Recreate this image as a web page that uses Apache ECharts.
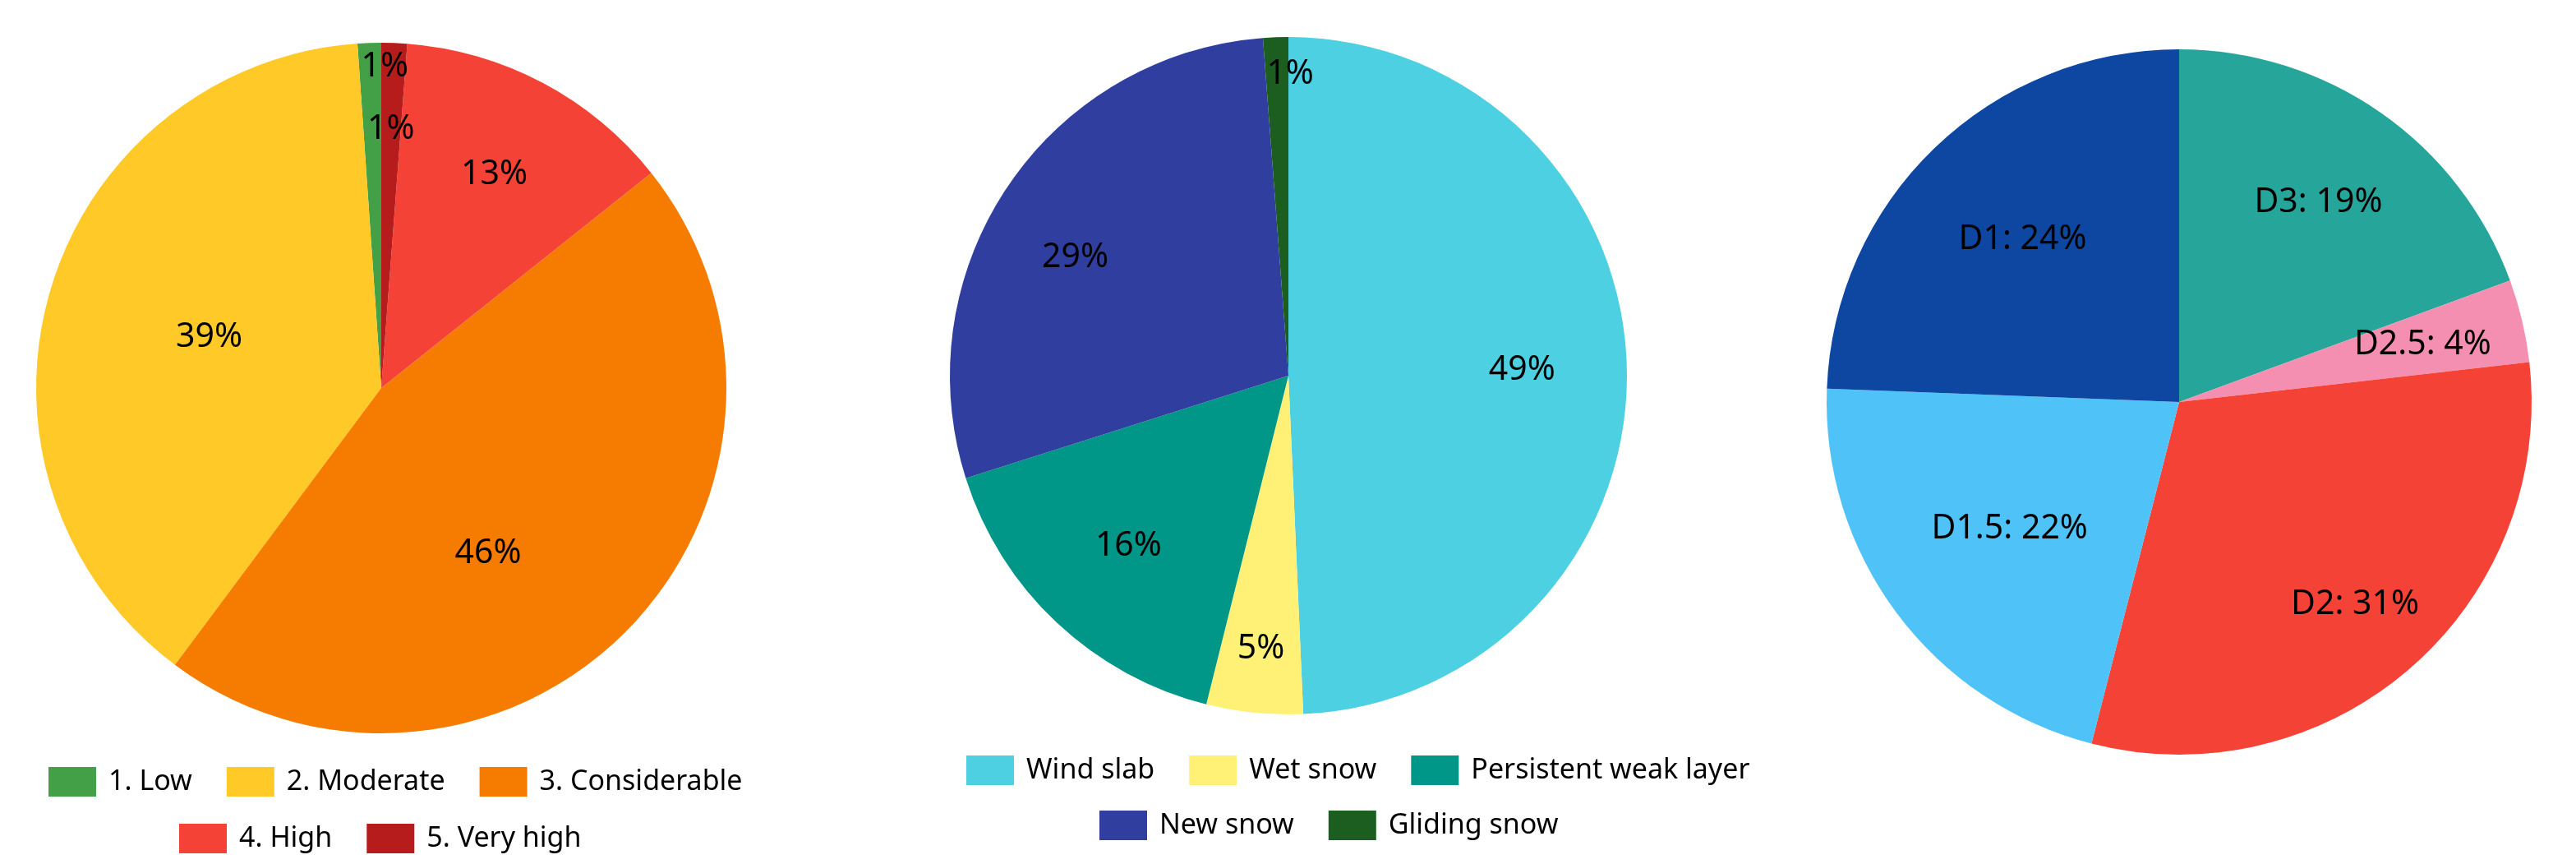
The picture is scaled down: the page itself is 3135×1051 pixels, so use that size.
<!DOCTYPE html>
<html>
<head>
<meta charset="utf-8">
<script src="https://cdn.jsdelivr.net/npm/echarts@6/dist/echarts.min.js"></script>
<style>
  html, body { margin: 0; padding: 0; background: #fff; width: 3135px; height: 1051px; overflow: hidden; }
  .c { position: absolute; top: 0; height: 1051px; }
</style>
</head>
<body>
<div id="c1" class="c" style="left:0;width:928px"></div>
<div id="c2" class="c" style="left:928px;width:1280px"></div>
<div id="c3" class="c" style="left:2208px;width:927px"></div>
<script>
// ---- Data ----
const dangerNames = ['1. Low', '2. Moderate', '3. Considerable', '4. High', '5. Very high'];
const dangerValues = [1.1, 38.7, 45.9, 13.1, 1.2];

const problemNames = ['Wind slab', 'Wet snow', 'Persistent weak layer', 'New snow', 'Gliding snow'];
const problemValues = [49.3, 4.6, 16.2, 28.7, 1.2];

const sizeNames = ['D3', 'D2.5', 'D2', 'D1.5', 'D1'];
const sizeValues = [19.4, 3.8, 30.8, 21.6, 24.4];

// ---- Styles ----
const dangerColors = ['#43A047', '#FFCA28', '#F57C00', '#F44336', '#B71C1C'];
const problemColors = ['#4DD0E1', '#FFF176', '#009688', '#303F9F', '#1B5E20'];
const sizeColors = ['#26A69A', '#F48FB1', '#F44336', '#4FC3F7', '#0D47A1'];

// label placement: fraction of radius, and angular shift (screen-clockwise degrees)
const dangerLabelRadius = [0.93, 0.52, 0.57, 0.70, 0.75];
const dangerLabelShift = [2.6, 0, 13, 0, 0];
const problemLabelRadius = [0.69, 0.81, 0.69, 0.72, 0.89];
const problemLabelShift = [0, 0, 0, -5, 2.5];
const sizeLabelRadius = [0.69, 0.71, 0.76, 0.60, 0.64];
const sizeLabelShift = [0, 0, 0, 0, 0];

const LABEL_FONT = '"Noto Sans", "Open Sans", sans-serif';
const LEGEND_FONT = '"Noto Sans", "Open Sans", sans-serif';

function radialLayout(values, cx, cy, r, fracs, shifts, clockwise) {
  const total = values.reduce((a, b) => a + b, 0);
  return function (params) {
    const i = params.dataIndex;
    let before = 0;
    for (let j = 0; j < i; j++) before += values[j];
    const mid = (before + values[i] / 2) / total;
    const deg = 90 + (clockwise ? -1 : 1) * 360 * mid - shifts[i];
    const theta = deg * Math.PI / 180;
    const rr = r * fracs[i];
    return { x: cx + rr * Math.cos(theta), y: cy - rr * Math.sin(theta) };
  };
}

function makeData(names, values, colors) {
  return names.map((n, i) => ({ name: n, value: values[i], itemStyle: { color: colors[i] } }));
}

function legend(names, left, top) {
  return {
    data: names,
    left: left,
    top: top,
    orient: 'horizontal',
    padding: 0,
    icon: 'rect',
    itemWidth: 58,
    itemHeight: 36,
    itemGap: 42,
    selectedMode: false,
    textStyle: { fontFamily: LEGEND_FONT, fontSize: 34, color: '#000', padding: [0, 0, 0, 10] }
  };
}

function pieSeries(names, values, colors, center, r, fracs, shifts, clockwise, fmt) {
  return {
    type: 'pie',
    center: center,
    radius: r,
    startAngle: 90,
    clockwise: clockwise,
    silent: true,
    avoidLabelOverlap: false,
    data: makeData(names, values, colors),
    itemStyle: { borderWidth: 0 },
    label: {
      show: true,
      position: 'inside',
      formatter: fmt,
      fontFamily: LABEL_FONT,
      fontSize: 41,
      color: '#000',
      textBorderWidth: 0
    },
    labelLine: { show: false },
    labelLayout: radialLayout(values, center[0], center[1], r, fracs, shifts, clockwise),
    emphasis: { disabled: true }
  };
}

const pctFmt = p => Math.round(p.value) + '%';

const c1 = echarts.init(document.getElementById('c1'), null, { renderer: 'canvas' });
c1.setOption({
  animation: false,
  backgroundColor: '#fff',
  legend: [
    legend(dangerNames.slice(0, 3), 59, 933),
    legend(dangerNames.slice(3), 218, 1002)
  ],
  series: [pieSeries(dangerNames, dangerValues, dangerColors, [464, 472], 420,
    dangerLabelRadius, dangerLabelShift, false, pctFmt)]
});

const c2 = echarts.init(document.getElementById('c2'), null, { renderer: 'canvas' });
c2.setOption({
  animation: false,
  backgroundColor: '#fff',
  legend: [
    legend(problemNames.slice(0, 3), 248, 919),
    legend(problemNames.slice(3), 410, 986)
  ],
  series: [pieSeries(problemNames, problemValues, problemColors, [640, 457], 412,
    problemLabelRadius, problemLabelShift, true, pctFmt)]
});

const c3 = echarts.init(document.getElementById('c3'), null, { renderer: 'canvas' });
c3.setOption({
  animation: false,
  backgroundColor: '#fff',
  series: [pieSeries(sizeNames, sizeValues, sizeColors, [444, 489], 429,
    sizeLabelRadius, sizeLabelShift, true,
    p => p.name + ': ' + Math.round(p.value) + '%')]
});
</script>
</body>
</html>
